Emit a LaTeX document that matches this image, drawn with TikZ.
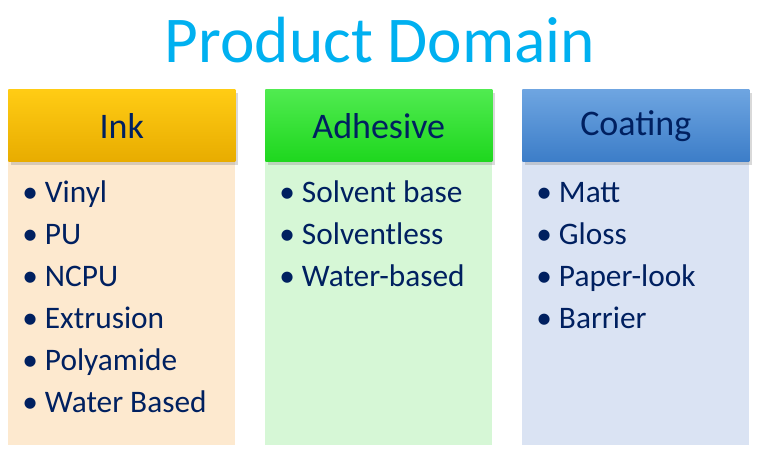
\documentclass[tikz,border=0pt]{standalone}
\usepackage{fontspec}
\setmainfont{Carlito}
\usetikzlibrary{positioning,shadows}
\definecolor{titleblue}{RGB}{0,176,240}
\definecolor{navy}{RGB}{0,32,96}
\definecolor{inktop}{RGB}{255,204,20}
\definecolor{inkbot}{RGB}{232,172,0}
\definecolor{inkbody}{RGB}{253,233,207}
\definecolor{adhtop}{RGB}{80,235,80}
\definecolor{adhbot}{RGB}{30,215,30}
\definecolor{adhbody}{RGB}{214,247,214}
\definecolor{coattop}{RGB}{110,165,225}
\definecolor{coatbot}{RGB}{60,125,200}
\definecolor{coatbody}{RGB}{218,227,243}
\tikzset{
  head/.style={minimum width=170.25pt,minimum height=54pt,inner sep=0pt,
    font=\fontsize{27}{30}\selectfont,text=navy,drop shadow={opacity=0.3}},
  body/.style={minimum width=170.25pt,minimum height=212pt,inner sep=0pt},
  item/.style={anchor=base west,inner sep=0pt,font=\fontsize{23.5}{27}\selectfont,text=navy}
}
\begin{document}
\begin{tikzpicture}[x=0.75pt,y=-0.75pt]
\useasboundingbox (0,0) rectangle (759,453);
\node[font=\fontsize{49}{54}\selectfont,text=titleblue] (title) at (380,40) {Product Domain};
% column bodies
\node[body,fill=inkbody,anchor=north west] (inkb) at (8,162) {};
\node[body,fill=adhbody,anchor=north west] (adhb) at (265,162) {};
\node[body,fill=coatbody,anchor=north west] (coatb) at (522,162) {};
% headers
\node[head,top color=inktop,bottom color=inkbot,anchor=south] (ink) at (inkb.north) {Ink};
\node[head,top color=adhtop,bottom color=adhbot,anchor=south] (adh) at (adhb.north) {Adhesive};
\node[head,top color=coattop,bottom color=coatbot,anchor=south] (coat) at (coatb.north) {Coating};
% items
\foreach \t [count=\i] in {Vinyl,PU,NCPU,Extrusion,Polyamide,Water Based}
  \node[item] (ink\i) at (22,160+42*\i) {\textbullet\ \t};
\foreach \t [count=\i] in {Solvent base,Solventless,Water-based}
  \node[item] (adh\i) at (279,160+42*\i) {\textbullet\ \t};
\foreach \t [count=\i] in {Matt,Gloss,Paper-look,Barrier}
  \node[item] (coat\i) at (536,160+42*\i) {\textbullet\ \t};
\end{tikzpicture}
\end{document}
